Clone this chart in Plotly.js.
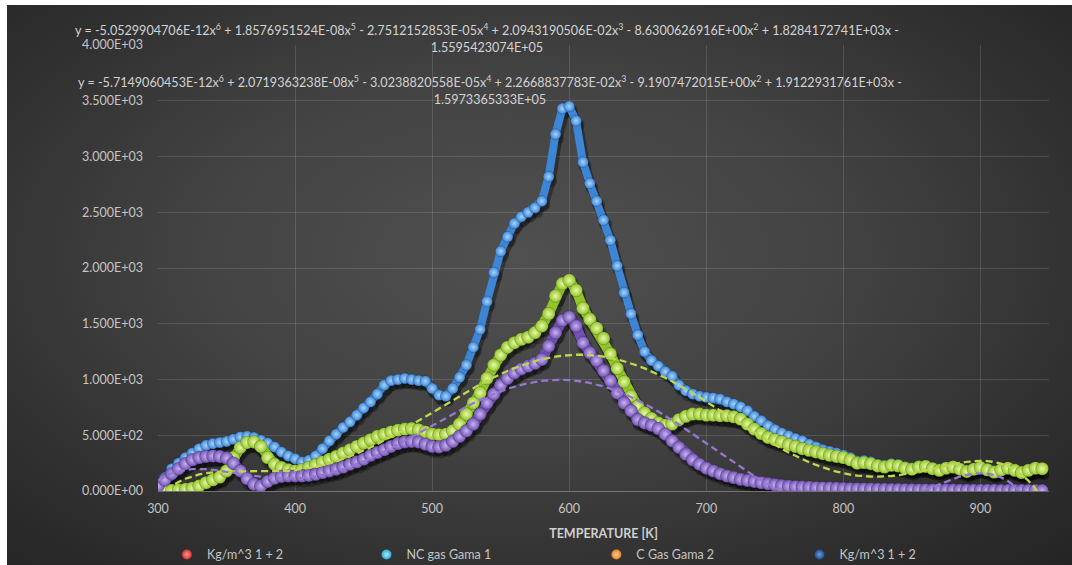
<!DOCTYPE html>
<html>
<head>
<meta charset="utf-8">
<script src="https://cdn.plot.ly/plotly-3.0.1.min.js"></script>
<style>
  html, body { margin: 0; padding: 0; background: #ffffff; width: 1072px; height: 565px; overflow: hidden; }
  #wrap {
    position: absolute; left: 7px; top: 5px; width: 1065px; height: 560px; overflow: hidden;
    background: radial-gradient(ellipse 75% 80% at 48% 45%, #505050 0%, #434343 40%, #2f2f2f 75%, #232323 100%);
  }
  #chart { width: 1065px; height: 620px; }
</style>
</head>
<body>
<div id="wrap"><div id="chart"></div></div>
<script>
// ---------------- data ----------------
const temps = [
  300,305,310,315,320,325,330,335,340,345,
  350,355,360,365,370,375,380,385,390,395,
  400,405,410,415,420,425,430,435,440,445,
  450,455,460,465,470,475,480,485,490,495,
  500,505,510,515,520,525,530,535,540,545,
  550,555,560,565,570,575,580,585,590,595,
  600,605,610,615,620,625,630,635,640,645,
  650,655,660,665,670,675,680,685,690,695,
  700,705,710,715,720,725,730,735,740,745,
  750,755,760,765,770,775,780,785,790,795,
  800,805,810,815,820,825,830,835,840,845,
  850,855,860,865,870,875,880,885,890,895,
  900,905,910,915,920,925,930,935,940,945
];

const blueTotal = [
  50,120,200,250,300,340,380,410,425,435,
  445,465,485,490,480,455,430,395,350,315,
  290,260,275,315,380,450,510,570,620,680,
  745,800,870,950,990,1000,1010,1000,990,985,
  920,860,850,920,1020,1130,1290,1450,1700,1960,
  2150,2280,2400,2460,2500,2540,2600,2820,3200,3430,
  3450,3320,2950,2760,2600,2430,2250,2020,1780,1590,
  1400,1250,1170,1120,1070,1030,950,900,870,850,
  840,835,825,800,780,755,720,670,630,585,
  550,520,495,470,450,420,395,370,355,340,
  322,300,269,273,262,241,230,244,238,217,
  206,225,230,209,194,213,223,202,182,202,
  216,196,176,195,210,190,170,189,209,204
];

const greenNC = [
  20,10,5,10,15,25,45,75,100,125,
  180,300,390,435,440,400,300,240,210,190,
  180,190,210,235,260,285,310,340,370,400,
  430,460,490,510,530,545,555,560,550,530,
  510,505,510,540,600,690,790,880,1010,1130,
  1220,1290,1330,1360,1380,1420,1480,1590,1750,1860,
  1890,1800,1640,1540,1460,1370,1230,1100,980,850,
  760,700,650,610,590,600,640,670,690,690,
  680,680,675,675,665,645,600,555,515,480,
  460,440,415,400,380,365,350,335,320,310,
  300,280,250,255,245,225,215,230,225,205,
  195,215,220,200,185,205,215,195,175,195,
  210,190,170,190,205,185,165,185,205,200
];

const purpleC = [
  45,100,155,200,245,280,300,310,315,310,
  295,250,180,110,60,45,85,115,130,135,
  135,135,140,150,165,180,195,215,240,260,
  285,320,345,370,400,425,440,445,440,420,
  400,395,410,445,490,540,600,690,790,870,
  950,1010,1060,1095,1120,1145,1180,1300,1420,1530,
  1560,1480,1330,1240,1170,1080,990,880,790,720,
  640,610,590,560,510,450,390,330,280,240,
  205,180,155,135,120,105,95,85,75,65,
  55,48,42,38,35,33,30,28,26,24,
  22,20,19,18,17,16,15,14,13,12,
  11,10,10,9,9,8,8,7,7,7,
  6,6,6,5,5,5,5,4,4,4
];

// 6th-order trendline coefficients as printed on the chart (x^6 ... x^0)
const greenTrendCoef  = [-5.0529904706E-12, 1.8576951524E-08, -2.7512152853E-05, 2.0943190506E-02, -8.6300626916E+00, 1.8284172741E+03, -1.5595423074E+05];
const purpleTrendCoef = [-5.7149060453E-12, 2.0719363238E-08, -3.0238820558E-05, 2.2668837783E-02, -9.1907472015E+00, 1.9122931761E+03, -1.5973365333E+05];

const eqGreen  = "y = -5.0529904706E-12x<sup>6</sup> + 1.8576951524E-08x<sup>5</sup> - 2.7512152853E-05x<sup>4</sup> + 2.0943190506E-02x<sup>3</sup> - 8.6300626916E+00x<sup>2</sup> + 1.8284172741E+03x -<br>1.5595423074E+05";
const eqPurple = "y = -5.7149060453E-12x<sup>6</sup> + 2.0719363238E-08x<sup>5</sup> - 3.0238820558E-05x<sup>4</sup> + 2.2668837783E-02x<sup>3</sup> - 9.1907472015E+00x<sup>2</sup> + 1.9122931761E+03x -<br>1.5973365333E+05";

const legendNames = ["Kg/m^3 1 + 2", "NC gas Gama 1", "C Gas Gama 2", "Kg/m^3 1 + 2"];
const xTicks = [300, 400, 500, 600, 700, 800, 900];
const yTicks = [0, 500, 1000, 1500, 2000, 2500, 3000, 3500, 4000];
const yTickText = ["0.000E+00", "5.000E+02", "1.000E+03", "1.500E+03", "2.000E+03", "2.500E+03", "3.000E+03", "3.500E+03", "4.000E+03"];

// ---------------- helpers ----------------
function polyVal(c, x) { let v = 0; for (let i = 0; i < c.length; i++) v = v * x + c[i]; return v; }
const greenTrend  = temps.map(t => polyVal(greenTrendCoef, t));
const purpleTrend = temps.map(t => polyVal(purpleTrendCoef, t));

const FONT = 'Lato, "Open Sans", sans-serif';
const X_RANGE = [300, 950];
const Y_RANGE = [0, 4000];

function beads(y, color, light, size, lineW) {
  return {
    type: 'scatter', mode: 'lines+markers', x: temps, y: y, showlegend: false, hoverinfo: 'skip',
    xaxis: 'x2', yaxis: 'y2',
    line: { color: color, width: lineW, shape: 'linear' },
    marker: { size: size, color: color, gradient: { type: 'radial', color: light },
              line: { color: 'rgba(0,0,0,0.3)', width: 0.6 } }
  };
}
function shadow(y, size, lineW) {
  return {
    type: 'scatter', mode: 'lines+markers', x: temps, y: y, showlegend: false, hoverinfo: 'skip',
    xaxis: 'x', yaxis: 'y',
    line: { color: 'rgba(0,0,0,0.35)', width: lineW + 2 },
    marker: { size: size + 2, color: 'rgba(0,0,0,0.28)', line: { width: 0 } }
  };
}

const traces = [
  shadow(blueTotal, 11, 8),
  shadow(greenNC, 13, 10),
  shadow(purpleC, 13, 10),
  beads(blueTotal, '#3d86d6', '#a6d4ff', 11, 8),
  beads(greenNC, '#92c42c', '#e9f9a6', 13, 10),
  beads(purpleC, '#7252b2', '#c6b3f2', 13, 10),
  { type: 'scatter', mode: 'lines', x: temps, y: greenTrend, showlegend: false, hoverinfo: 'skip',
    xaxis: 'x2', yaxis: 'y2', line: { color: '#bdd84a', width: 2.3, dash: '7px,4px' } },
  { type: 'scatter', mode: 'lines', x: temps, y: purpleTrend, showlegend: false, hoverinfo: 'skip',
    xaxis: 'x2', yaxis: 'y2', line: { color: '#9577d2', width: 2.3, dash: '7px,4px' } }
];

const legendColors = [['#d42f2f', '#ff9a9a'], ['#2aa7d0', '#a8ecff'], ['#e8801e', '#ffd09a'], ['#1d4a92', '#6f9ee0']];
const legendIds = ['legend', 'legend2', 'legend3', 'legend4'];
for (let i = 0; i < 4; i++) {
  traces.push({
    type: 'scatter', mode: 'markers', x: [null], y: [null], name: legendNames[i],
    xaxis: 'x2', yaxis: 'y2',
    legend: legendIds[i], showlegend: true,
    marker: { size: 10, color: legendColors[i][0], gradient: { type: 'radial', color: legendColors[i][1] } }
  });
}

const legendX = [0.010, 0.234, 0.492, 0.720];
const legendBase = {
  orientation: 'h', xanchor: 'left', yanchor: 'middle', y: -0.1433,
  bgcolor: 'rgba(0,0,0,0)', font: { family: FONT, size: 12.5, color: '#c4c4c4' }
};

// shadow axes: same scale, shifted a few pixels right/down
const pxPerX = 891 / (X_RANGE[1] - X_RANGE[0]);
const pxPerY = 445.6 / (Y_RANGE[1] - Y_RANGE[0]);
const sx = 2 / pxPerX, sy = 4 / pxPerY;

const layout = {
  width: 1065, height: 620,
  margin: { l: 151, r: 23, t: 40, b: 134 },
  paper_bgcolor: 'rgba(0,0,0,0)', plot_bgcolor: 'rgba(0,0,0,0)',
  font: { family: FONT, color: '#c4c4c4' },
  xaxis: { range: [X_RANGE[0] - sx, X_RANGE[1] - sx], visible: false, showgrid: false, zeroline: false },
  yaxis: { range: [Y_RANGE[0] + sy, Y_RANGE[1] + sy], visible: false, showgrid: false, zeroline: false },
  xaxis2: {
    overlaying: 'x', side: 'bottom', anchor: 'y2',
    range: X_RANGE, tickvals: xTicks, ticktext: xTicks.map(String),
    showgrid: true, gridcolor: 'rgba(255,255,255,0.13)', gridwidth: 1,
    zeroline: false, showline: false, ticks: '', ticklabelstandoff: 8,
    tickfont: { family: FONT, size: 12.5, color: '#c4c4c4' },
    title: { text: 'TEMPERATURE [K]', standoff: 14, font: { family: FONT, size: 12.5, color: '#cfcfcf', weight: 'bold' } }
  },
  yaxis2: {
    overlaying: 'y', side: 'left', anchor: 'x2',
    range: Y_RANGE, tickvals: yTicks, ticktext: yTickText,
    showgrid: true, gridcolor: 'rgba(255,255,255,0.13)', gridwidth: 1,
    zeroline: true, zerolinecolor: 'rgba(255,255,255,0.3)', zerolinewidth: 1,
    showline: false, ticks: '', ticklabelstandoff: 14,
    tickfont: { family: FONT, size: 12.5, color: '#c4c4c4' }
  },
  annotations: [
    { xref: 'paper', yref: 'paper', x: 0.369, y: 1.016, xanchor: 'center', yanchor: 'middle',
      text: eqGreen, showarrow: false, align: 'center', font: { family: FONT, size: 12.6, color: '#d2d2d2' } },
    { xref: 'paper', yref: 'paper', x: 0.373, y: 0.900, xanchor: 'center', yanchor: 'middle',
      text: eqPurple, showarrow: false, align: 'center', font: { family: FONT, size: 12.6, color: '#d2d2d2' } }
  ],
  showlegend: true
};
legendIds.forEach((id, i) => { layout[id] = Object.assign({}, legendBase, { x: legendX[i] }); });

Plotly.newPlot('chart', traces, layout, { staticPlot: true, displayModeBar: false });
</script>
</body>
</html>
